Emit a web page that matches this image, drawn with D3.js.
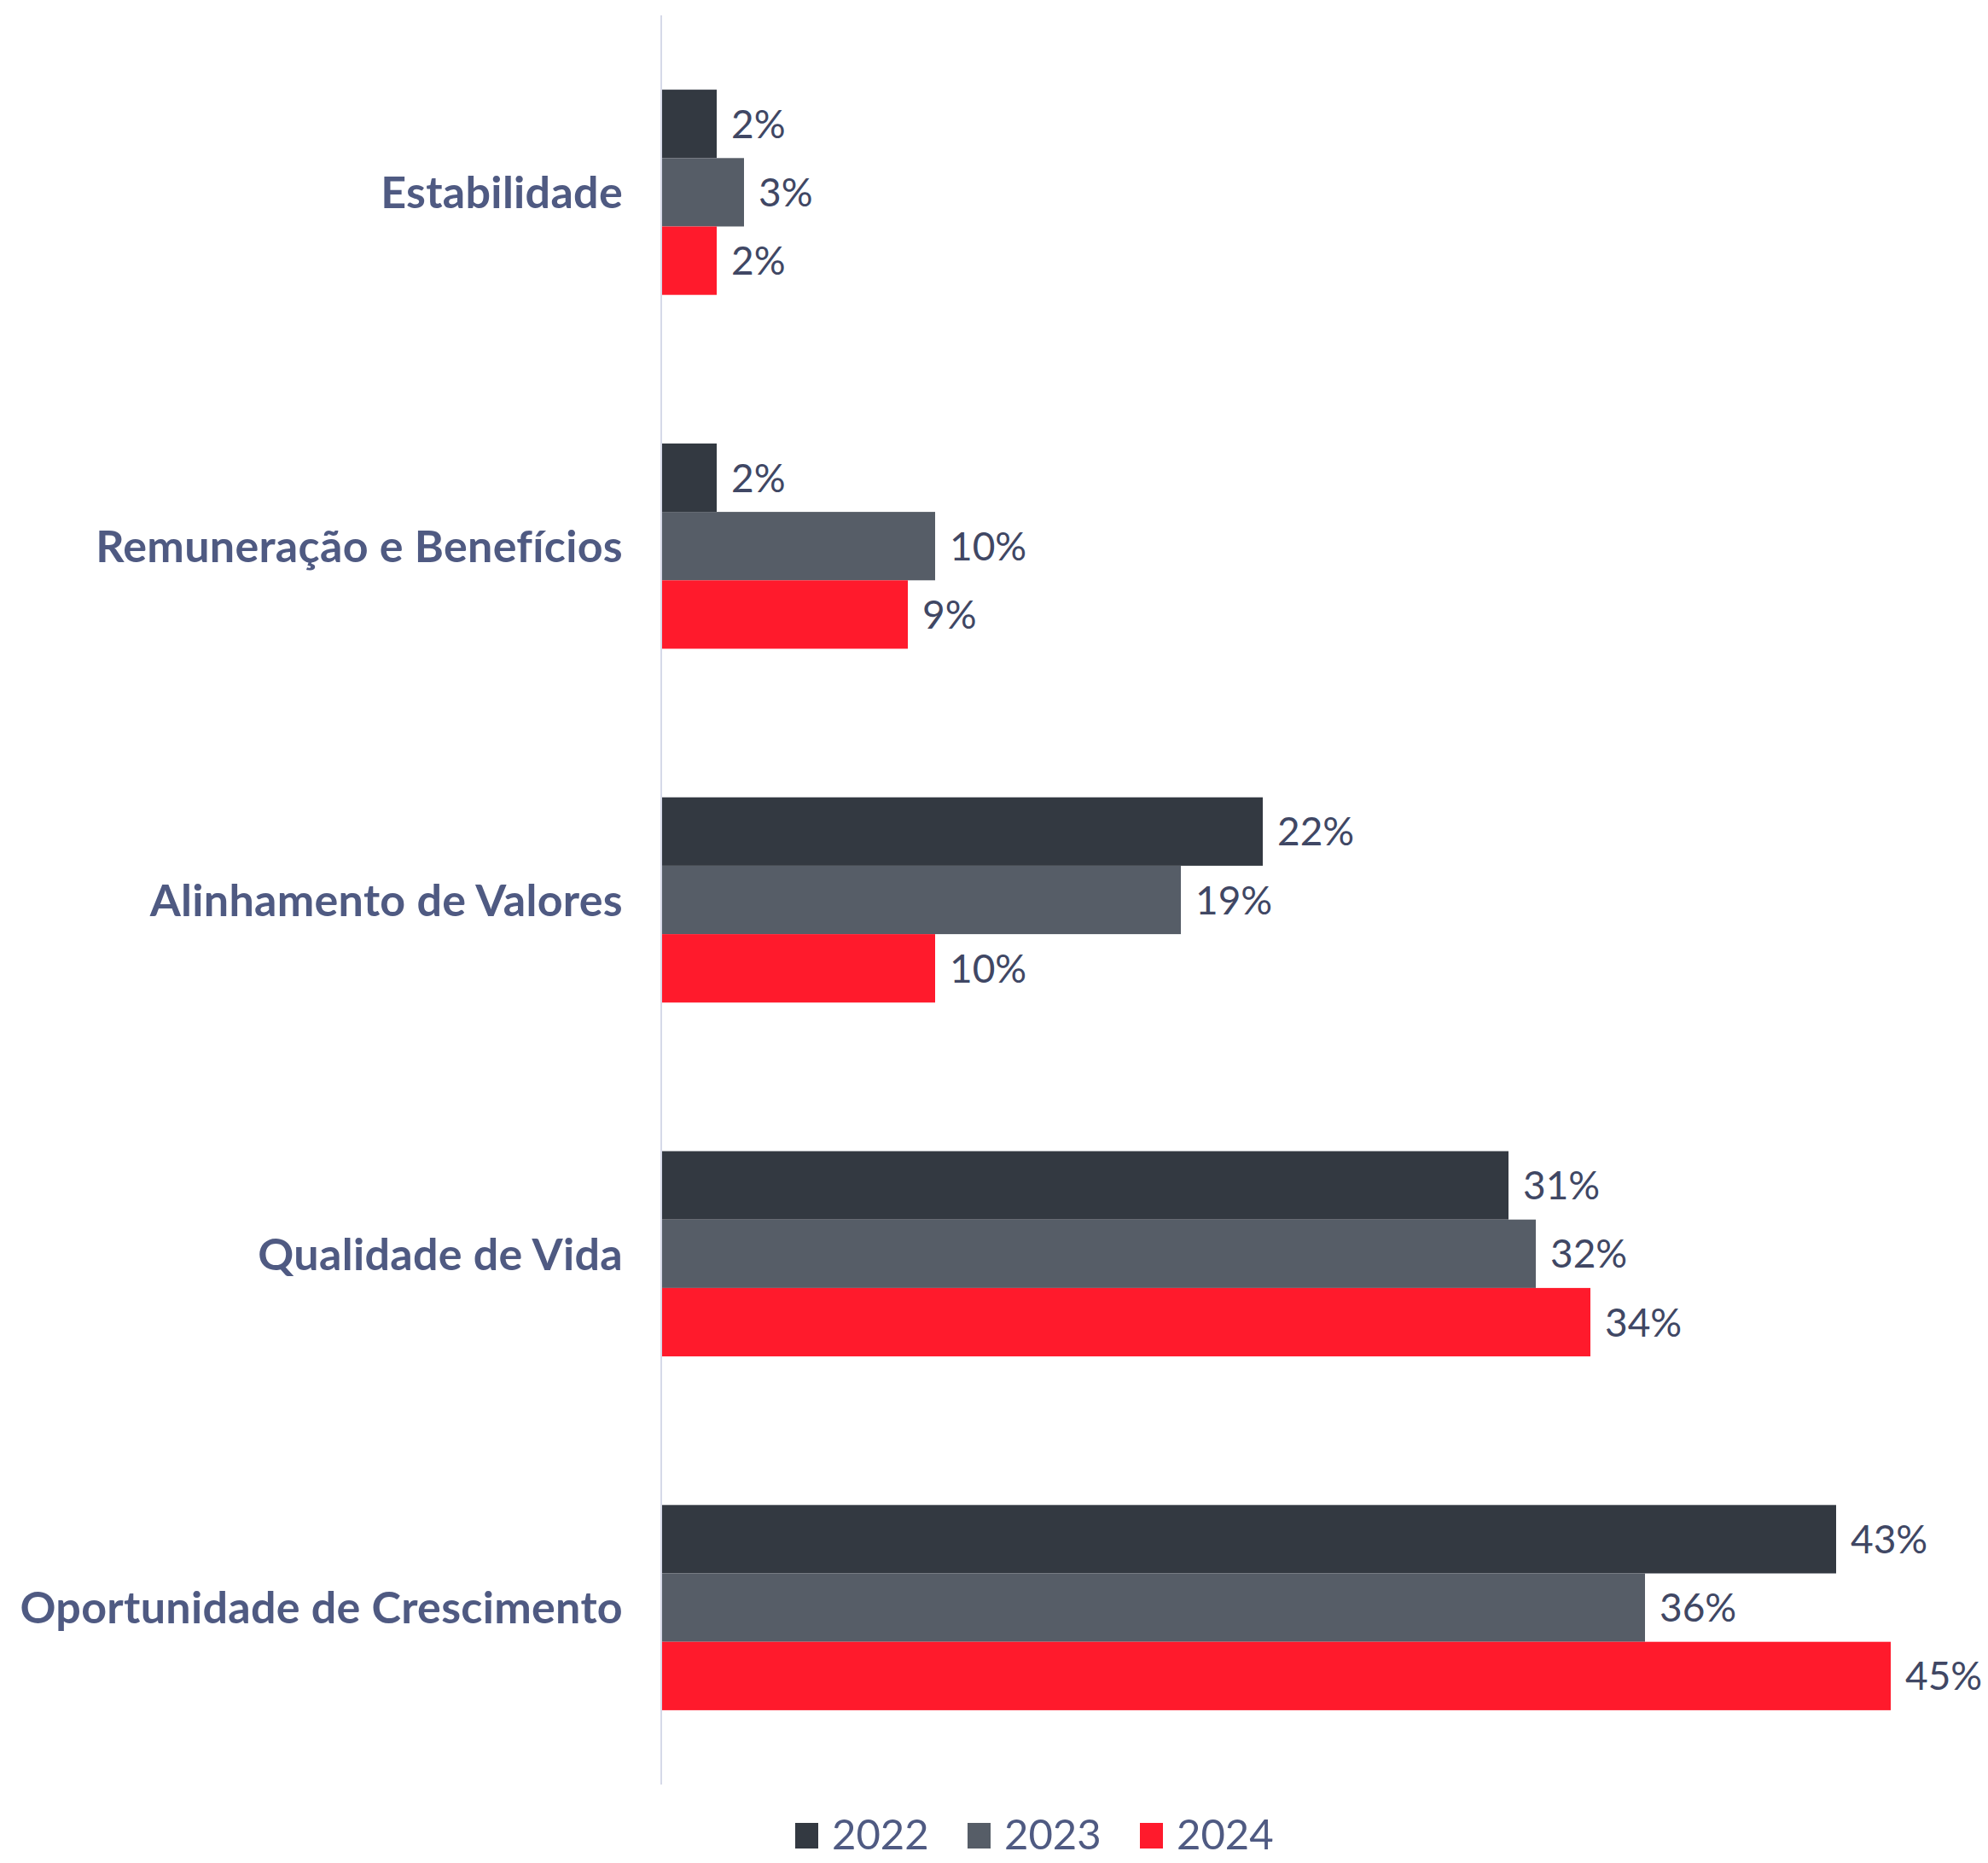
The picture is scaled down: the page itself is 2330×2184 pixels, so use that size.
<!DOCTYPE html>
<html>
<head>
<meta charset="utf-8">
<script src="https://cdn.jsdelivr.net/npm/d3@7"></script>
<style>
  html, body { margin: 0; padding: 0; background: #ffffff; }
  svg { display: block; }
</style>
</head>
<body>
<div id="chart"></div>
<script>
const categories = ["Estabilidade", "Remuneração e Benefícios", "Alinhamento de Valores", "Qualidade de Vida", "Oportunidade de Crescimento"];
const seriesNames = ["2022", "2023", "2024"];
const values2022 = [2, 2, 22, 31, 43];
const values2023 = [3, 10, 19, 32, 36];
const values2024 = [2, 9, 10, 34, 45];
const seriesValues = [values2022, values2023, values2024];
const colors = ["#333941", "#565d67", "#ff1a2c"];

const W = 2330, H = 2184;
const svg = d3.select("#chart").append("svg").attr("width", W).attr("height", H);

const axisX = 776;
const x = d3.scaleLinear().domain([0, 50]).range([axisX, axisX + 1600]);
const y0 = d3.scaleBand().domain(categories).range([18, 2092]).paddingInner(0.42).paddingOuter(0.21);
const y1 = d3.scaleBand().domain(seriesNames).range([0, y0.bandwidth()]).padding(0);

const rows = [];
categories.forEach((c, i) => {
  seriesNames.forEach((s, j) => rows.push({ cat: c, series: s, value: seriesValues[j][i], color: colors[j] }));
});

const g = svg.append("g");
g.selectAll("rect.bar").data(rows).join("rect")
  .attr("class", "bar")
  .attr("x", x(0))
  .attr("y", d => y0(d.cat) + y1(d.series))
  .attr("width", d => x(d.value) - x(0))
  .attr("height", y1.bandwidth())
  .attr("fill", d => d.color);

g.selectAll("text.val").data(rows).join("text")
  .attr("class", "val")
  .attr("x", d => x(d.value) + 17)
  .attr("y", d => y0(d.cat) + y1(d.series) + y1.bandwidth() / 2)
  .attr("dy", "0.36em")
  .attr("font-family", "Lato, 'Open Sans', sans-serif")
  .attr("font-size", 46)
  .attr("fill", "#404764")
  .text(d => d.value + "%");

// vertical axis line
svg.append("line")
  .attr("x1", axisX - 1).attr("x2", axisX - 1)
  .attr("y1", y0.range()[0]).attr("y2", y0.range()[1])
  .attr("stroke", "#d6d9e8").attr("stroke-width", 2);

// category labels via axis
const yAxis = d3.axisLeft(y0).tickSize(0).tickPadding(0);
const ax = svg.append("g").attr("transform", `translate(730,0)`).call(yAxis);
ax.select(".domain").remove();
ax.selectAll("text")
  .attr("font-family", "Lato, sans-serif")
  .attr("font-weight", "bold")
  .attr("font-size", 52)
  .attr("letter-spacing", 0.3)
  .attr("fill", "#4f5a82")
  .attr("dy", "0.36em");

// legend
const legendX = [932, 1134, 1336];
const lg = svg.append("g").selectAll("g").data(seriesNames).join("g")
  .attr("transform", (d, i) => `translate(${legendX[i]}, 2150)`);
lg.append("rect").attr("x", 0).attr("y", -13).attr("width", 27).attr("height", 30)
  .attr("fill", (d, i) => colors[i]);
lg.append("text").attr("x", 43).attr("y", 0).attr("dy", "0.36em")
  .attr("font-family", "Lato, sans-serif")
  .attr("font-size", 49)
  .attr("fill", "#4f5a82")
  .text(d => d);
</script>
</body>
</html>
